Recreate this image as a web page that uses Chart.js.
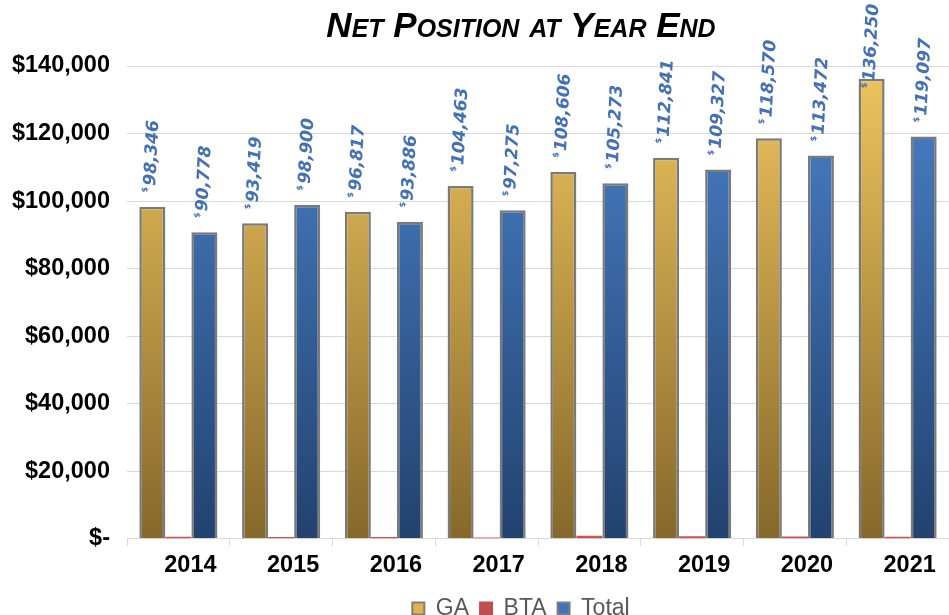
<!DOCTYPE html>
<html>
<head>
<meta charset="utf-8">
<script src="https://cdn.jsdelivr.net/npm/chart.js@4.4.1/dist/chart.umd.min.js"></script>
<style>
  html, body { margin: 0; padding: 0; background: #fff; }
  #wrap { width: 949px; height: 615px; }
</style>
</head>
<body>
<div id="wrap"><canvas id="netPositionChart" width="949" height="615"></canvas></div>
<script>
// Net position at year end, by fund
const years = ['2014', '2015', '2016', '2017', '2018', '2019', '2020', '2021'];
const gaValues = [98346, 93419, 96817, 104463, 108606, 112841, 118570, 136250];
const btaValues = [600, 560, 520, 420, 900, 720, 680, 600];
const totalValues = [90778, 98900, 93886, 97275, 105273, 109327, 113472, 119097];
const yTicks = [0, 20000, 40000, 60000, 80000, 100000, 120000, 140000];

const fmt = v => v.toLocaleString('en-US');

// vertical gradient across the plot area, light on top, dark at the bottom
function plotGradient(ctx, top, bottom) {
    const area = ctx.chart.chartArea;
    if (!area) return top;
    const g = ctx.chart.ctx.createLinearGradient(0, area.top, 0, area.bottom);
    g.addColorStop(0, top);
    g.addColorStop(1, bottom);
    return g;
}

// rotated value labels with a small superscript "$"
const valueLabels = {
    id: 'valueLabels',
    afterDatasetsDraw(chart) {
        const ctx = chart.ctx;
        const angle = -87 * Math.PI / 180;
        [0, 2].forEach(di => {
            const meta = chart.getDatasetMeta(di);
            meta.data.forEach((bar, i) => {
                const text = fmt(chart.data.datasets[di].data[i]);
                ctx.save();
                ctx.font = 'italic bold 17px "DejaVu Sans"';
                const len = ctx.measureText(text).width + 5;
                // keep the label inside the canvas (slides down onto the bar)
                let start = bar.y - 16;
                const topY = start - len * Math.sin(-angle);
                if (topY < 4) start += 4 - topY;
                ctx.translate(bar.x - 2, start);
                ctx.rotate(angle);
                ctx.fillStyle = '#4470b4';
                ctx.textAlign = 'left';
                ctx.textBaseline = 'middle';
                ctx.font = 'bold 8px "DejaVu Sans"';
                ctx.fillText('$', -2, -5);
                ctx.font = 'italic bold 17px "DejaVu Sans"';
                ctx.fillText(text, 5, 0);
                ctx.restore();
            });
        });
    }
};

// nudge the title and legend a bit left of the plot centre, like the original
const shiftBlocks = {
    id: 'shiftBlocks',
    afterLayout(chart) {
        [chart.titleBlock, chart.legend].forEach(b => {
            if (b) { b.left -= 17; b.right -= 17; }
        });
    }
};

const ctx = document.getElementById('netPositionChart').getContext('2d');

new Chart(ctx, {
    type: 'bar',
    data: {
        labels: years,
        datasets: [
            {
                label: 'GA',
                data: gaValues,
                backgroundColor: c => plotGradient(c, '#f0c55e', '#85682b'),
                borderColor: '#7a7a7a',
                borderWidth: 2.5,
                legendColor: '#e2b24a'
            },
            {
                label: 'BTA',
                data: btaValues,
                backgroundColor: '#d0504d',
                borderWidth: 0,
                legendColor: '#c0504d'
            },
            {
                label: 'Total',
                data: totalValues,
                backgroundColor: c => plotGradient(c, '#4b82ca', '#22426f'),
                borderColor: '#7a7a7a',
                borderWidth: 2.5,
                legendColor: '#3f74b8'
            }
        ]
    },
    options: {
        responsive: false,
        animation: false,
        categoryPercentage: 0.76,
        barPercentage: 1,
        layout: {
            padding: { left: 8, right: 0, top: 0, bottom: -15 }
        },
        plugins: {
            title: {
                display: true,
                fullSize: false,
                text: 'Net Position at Year End',
                color: '#000',
                font: {
                    family: '"Liberation Sans Narrow", "Liberation Sans", Arial',
                    size: 35,
                    style: 'italic',
                    weight: 'small-caps bold',
                    lineHeight: 1.0
                },
                padding: { top: 10, bottom: 21 }
            },
            legend: {
                display: true,
                position: 'bottom',
                fullSize: false,
                labels: {
                    boxWidth: 12,
                    boxHeight: 12,
                    padding: 11,
                    color: '#595959',
                    font: { family: '"Liberation Sans", Arial', size: 23 },
                    generateLabels: chart => chart.data.datasets.map((ds, i) => ({
                        text: ds.label,
                        fillStyle: ds.legendColor,
                        strokeStyle: i === 1 ? ds.legendColor : '#7f7f7f',
                        lineWidth: 2,
                        fontColor: '#595959',
                        datasetIndex: i
                    }))
                }
            },
            tooltip: { enabled: false }
        },
        scales: {
            x: {
                grid: {
                    display: true,
                    drawOnChartArea: false,
                    offset: true,
                    tickLength: 7,
                    color: '#d9d9d9'
                },
                border: { color: '#d9d9d9', width: 1 },
                ticks: {
                    color: '#000',
                    padding: 6,
                    labelOffset: 12,
                    font: { family: '"Liberation Sans", Arial', size: 23.5, weight: 'bold' }
                }
            },
            y: {
                min: 0,
                max: 140000,
                afterBuildTicks: scale => { scale.ticks = yTicks.map(v => ({ value: v })); },
                afterFit: scale => { scale.width = 119; },
                grid: {
                    color: '#d9d9d9',
                    tickLength: 0
                },
                border: { display: false },
                ticks: {
                    color: '#000',
                    padding: 17,
                    font: { family: '"Liberation Sans", Arial', size: 23.5, weight: 'bold' },
                    callback: v => v === 0 ? '$-' : '$' + fmt(v)
                }
            }
        }
    },
    plugins: [valueLabels, shiftBlocks]
});
</script>
</body>
</html>
